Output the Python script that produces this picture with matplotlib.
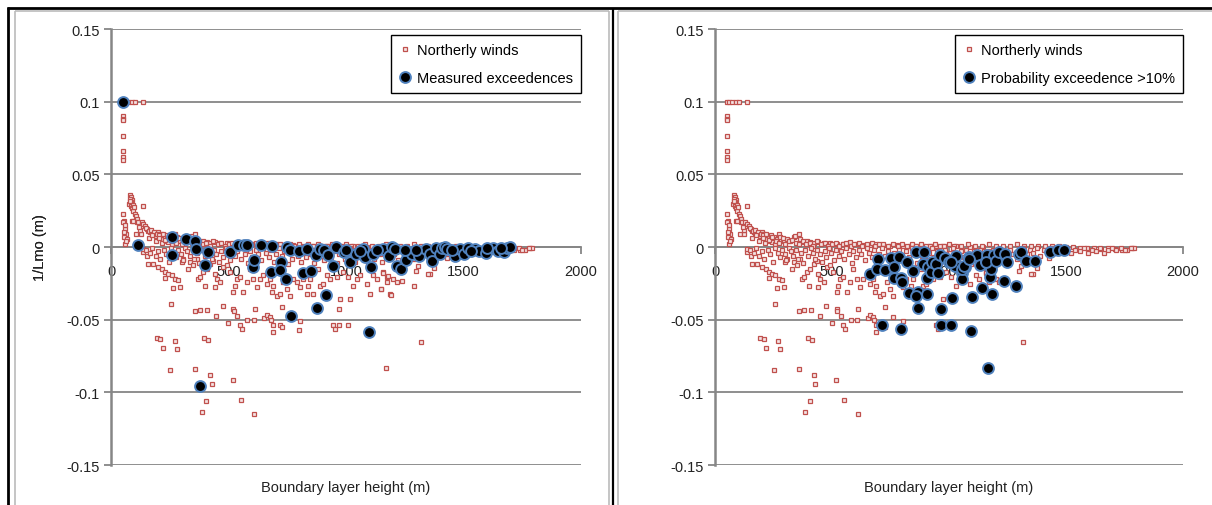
import matplotlib
matplotlib.use("Agg")
import matplotlib.pyplot as plt
from matplotlib.lines import Line2D

# ---------------- data ----------------
north_winds = [
    (51,0.100),(60,0.100),(71,0.100),(88,0.100),(104,0.100),(138,0.100),
    (51,0.0898),(52,0.0882),(51,0.0872),(51,0.0766),(52,0.0663),(51,0.0616),(51,0.0602),
    (81,0.0358),(84,0.0342),(88,0.0326),(78,0.0296),(84,0.0285),(89,0.0267),(95,0.0250),
    (102,0.0228),(106,0.0212),(109,0.0193),(112,0.0175),(135,0.0285),
    (82,0.0330),(86,0.0310),(80,0.0315),(92,0.0290),(97,0.0275),
    (52,0.0228),(55,0.0182),(52,0.0175),(60,0.0124),(64,0.0090),(55,0.0067),(67,0.0056),
    (60,0.0021),(56,0.0100),(58,0.0150),(62,0.0040),
    (88,0.0182),(95,0.0182),(106,0.0090),(126,0.0090),(116,0.0170),(130,0.0170),(138,0.0159),
    (145,0.0147),(152,0.0124),(159,0.0113),(166,0.0102),(173,0.0097),(180,0.0090),(191,0.0079),
    (201,0.0102),(211,0.0090),(216,0.0067),(223,0.0056),(230,0.0079),(237,0.0044),(244,0.0033),
    (251,0.0067),(258,0.0021),(265,0.0056),(272,0.0090),(279,0.0067),(294,0.0044),(308,0.0056),
    (322,0.0044),(336,0.0067),(343,0.0079),(357,0.0090),(364,0.0056),(379,0.0033),(393,0.0044),
    (407,0.0033),(421,0.0028),(442,0.0033),(464,0.0028),(492,0.0028),(520,0.0021),(549,0.0021),
    (577,0.0033),(605,0.0021),(634,0.0017),(662,0.0015),(690,0.0019),(719,0.0015),(747,0.0010),
    (776,0.0015),(804,0.0010),(832,0.0010),(861,0.0010),(889,0.0010),(918,0.0008),(946,0.0005),
    (974,0.0005),(1031,0.0005),(1088,0.0003),(1144,0.0003),(1201,0.0003),
    (122,0.012),(118,0.014),(148,0.013),(162,0.011),(170,0.012),(185,0.010),(195,0.009),
    (205,0.008),(220,0.009),(240,0.008),
    (160,0.006),(175,0.008),(190,0.004),(205,0.006),(215,0.003),(230,0.005),(245,0.007),
    (260,0.004),(275,0.003),(290,0.006),(300,0.002),(315,0.004),(330,0.005),(345,0.003),
    (360,0.002),(375,0.004),(390,0.002),(405,0.003),(420,0.001),(435,0.004),(455,0.002),
    (470,0.003),(485,0.001),(500,0.002),(515,0.003),(530,0.001),(545,0.002),(560,0.003),
    (580,0.001),(595,0.002),(615,0.003),(630,0.001),(650,0.002),(670,0.003),(685,0.001),
    (700,0.002),(720,0.002),(740,0.001),(760,0.002),(780,0.001),(800,0.002),(820,0.001),
    (840,0.002),(860,0.001),(880,0.002),(900,0.001),(920,0.001),(940,0.002),(960,0.001),
    (980,0.001),(1000,0.002),(1020,0.001),(1050,0.001),(1080,0.002),(1110,0.001),(1140,0.001),
    (1170,0.002),(1200,0.001),(1230,0.001),(1260,0.001),(1290,0.002),(1320,0.001),(1350,0.0005),
    (1380,0.001),(1410,0.0005),(1440,0.001),(1470,0.0005),(1500,0.0),(1530,0.0),(1560,-0.0005),
    (1590,-0.001),(1620,-0.0008),(1650,-0.0012),(1680,-0.001),(1710,-0.0015),(1740,-0.0018),
    (1760,-0.0022),
    (138,-0.0036),(152,-0.0063),(135,-0.0013),(159,-0.0116),(180,-0.0116),(201,-0.0139),
    (216,-0.0150),(230,-0.0173),(244,-0.0185),(258,-0.0196),(230,-0.0214),(272,-0.0219),
    (286,-0.0230),(294,-0.0276),(265,-0.0283),(300,-0.0105),(308,-0.0082),(329,-0.0150),
    (336,-0.0105),(350,-0.0127),(364,-0.0082),(372,-0.0219),(379,-0.0208),(393,-0.0173),
    (400,-0.0265),(407,-0.0150),(421,-0.0116),(435,-0.0093),(442,-0.0185),(450,-0.0219),
    (442,-0.0276),(464,-0.0242),(478,-0.0139),(492,-0.0127),(506,-0.0173),(520,-0.0311),
    (527,-0.0269),(535,-0.0219),(549,-0.0208),(563,-0.0311),(577,-0.0242),(591,-0.0150),
    (605,-0.0219),(620,-0.0276),(634,-0.0219),(648,-0.0196),(662,-0.0253),(676,-0.0219),
    (683,-0.0311),(690,-0.0265),(705,-0.0334),(719,-0.0322),(726,-0.0414),(733,-0.0242),
    (747,-0.0288),(761,-0.0334),(776,-0.0219),(790,-0.0242),(804,-0.0276),(818,-0.0219),
    (832,-0.0322),(839,-0.0265),(846,-0.0219),(861,-0.0322),(882,-0.0150),(889,-0.0265),
    (900,-0.0253),(918,-0.0196),(932,-0.0219),(946,-0.0150),(960,-0.0208),(974,-0.0356),
    (988,-0.0173),(1010,-0.0208),(1017,-0.0356),(1031,-0.0265),(1045,-0.0219),(1059,-0.0196),
    (1088,-0.0253),(1102,-0.0322),(1116,-0.0196),(1130,-0.0219),(1151,-0.0288),(1158,-0.0173),
    (1173,-0.0242),(1187,-0.0322),(1201,-0.0219),(1215,-0.0242),
    (255,-0.0391),(357,-0.0443),(379,-0.0432),(410,-0.0432),(447,-0.0478),(475,-0.0409),
    (499,-0.0521),(520,-0.0425),(523,-0.0443),(538,-0.0475),(549,-0.0540),(556,-0.0563),
    (580,-0.0505),(608,-0.0505),(613,-0.0430),(652,-0.0489),(662,-0.0471),(676,-0.0482),
    (679,-0.0505),(690,-0.0540),(688,-0.0585),(719,-0.0540),(726,-0.0551),(761,-0.0482),
    (801,-0.0569),(804,-0.0512),(875,-0.0430),(943,-0.0535),(953,-0.0567),(971,-0.0535),
    (971,-0.0430),(1010,-0.0535),
    (194,-0.0627),(208,-0.0633),(220,-0.0695),(271,-0.0645),(279,-0.0704),(251,-0.0849),
    (396,-0.0627),(414,-0.0640),(357,-0.0837),(518,-0.0913),(421,-0.0883),(428,-0.0943),
    (1170,-0.0833),
    (404,-0.1062),(386,-0.1135),(552,-0.1050),(610,-0.1151),
    (1428,-0.0078),(1371,-0.0094),(1374,-0.0146),(1357,-0.0188),(1298,-0.0162),(1308,-0.0128),
    (1291,-0.0270),(1240,-0.0233),(1191,-0.0332),(1149,-0.0288),(1173,-0.0208),(1180,-0.0201),
    (1159,-0.0178),(1318,-0.0655),(1350,-0.0188),
    (150,-0.002),(165,-0.004),(175,-0.001),(190,-0.006),(200,-0.003),(210,-0.008),(225,-0.002),
    (235,-0.005),(248,-0.010),(255,-0.001),(268,-0.004),(278,-0.007),(285,-0.002),(298,-0.005),
    (305,-0.009),(315,-0.001),(325,-0.003),(335,-0.006),(348,-0.002),(355,-0.008),(368,-0.004),
    (375,-0.011),(385,-0.002),(398,-0.006),(410,-0.001),(418,-0.004),(428,-0.008),(438,-0.002),
    (448,-0.005),(458,-0.010),(468,-0.003),(475,-0.007),(488,-0.001),(497,-0.004),(508,-0.009),
    (515,-0.002),(528,-0.006),(538,-0.003),(552,-0.008),(560,-0.001),(572,-0.005),(585,-0.011),
    (590,-0.003),(602,-0.007),(615,-0.002),(625,-0.005),(640,-0.009),(648,-0.001),(660,-0.004),
    (672,-0.007),(680,-0.002),(695,-0.010),(702,-0.005),(715,-0.001),(728,-0.006),(738,-0.003),
    (752,-0.012),(765,-0.004),(772,-0.008),(785,-0.002),(795,-0.006),(808,-0.010),(818,-0.003),
    (828,-0.007),(842,-0.001),(850,-0.005),(865,-0.011),(872,-0.003),(885,-0.006),(895,-0.002),
    (908,-0.009),(915,-0.004),(928,-0.001),(938,-0.007),(950,-0.003),(962,-0.011),(970,-0.005),
    (985,-0.002),(995,-0.008),(1005,-0.004),(1018,-0.001),(1028,-0.006),(1040,-0.010),
    (1050,-0.003),(1062,-0.007),(1072,-0.002),(1085,-0.005),(1095,-0.012),(1108,-0.003),
    (1120,-0.008),(1132,-0.002),(1145,-0.005),(1155,-0.010),(1168,-0.003),(1178,-0.007),
    (1190,-0.002),(1205,-0.005),(1220,-0.009),(1235,-0.003),(1248,-0.006),(1262,-0.002),
    (1275,-0.005),(1290,-0.008),(1305,-0.003),(1318,-0.001),(1332,-0.005),(1345,-0.002),
    (1360,-0.004),(1375,-0.001),(1390,-0.006),(1405,-0.002),(1420,-0.003),(1438,-0.001),
    (1452,-0.004),(1470,-0.002),(1488,-0.003),(1505,-0.001),(1522,-0.004),(1540,-0.002),
    (1558,-0.003),(1575,-0.001),(1592,-0.004),(1610,-0.002),(1628,-0.003),(1645,-0.001),
    (1662,-0.004),(1680,-0.002),(1698,-0.001),(1715,-0.002),(1735,-0.001),(1751,-0.0020),
    (1783,-0.0009),(1790,-0.0007),(1779,-0.0010),
]

measured_exceedences = [
    (51,0.100),(113,0.0012),(258,0.0066),(259,-0.0055),(318,0.0053),(357,0.0043),(362,-0.0013),
    (412,-0.0036),(399,-0.0122),(508,-0.0034),(540,0.0012),(566,0.0012),(578,0.0012),
    (603,-0.0140),(610,-0.0090),(637,0.0012),(686,0.0010),(682,-0.0171),(722,-0.0105),
    (720,-0.0155),(744,-0.0221),(747,0.0000),(761,-0.0018),(801,-0.0025),(815,-0.0176),
    (832,-0.0013),(853,-0.0168),(871,-0.0055),(875,-0.0421),(889,-0.0013),(905,-0.0024),
    (917,-0.0327),(923,-0.0056),(944,-0.0128),(958,0.0000),(993,-0.0032),(1017,-0.0105),
    (1042,-0.0048),(1074,-0.0016),(1082,-0.0068),(1098,-0.0582),(1105,-0.0141),(1116,-0.0047),
    (1159,-0.0013),(1184,-0.0059),(1194,0.0000),(1210,-0.0015),(1215,-0.0130),(1232,-0.0150),
    (1256,-0.0088),(1276,-0.0034),(1282,-0.0048),(1310,-0.0065),(1340,-0.0012),(1356,-0.0045),
    (1367,-0.0097),(1381,-0.0010),(1398,-0.0048),(1407,-0.0009),(1420,-0.0003),(1431,-0.0012),
    (1463,-0.0059),(1487,-0.0014),(1504,-0.0048),(1521,-0.0005),(1547,-0.0012),(1565,-0.0025),
    (1594,-0.0038),(1625,-0.0007),(1647,-0.0025),(1672,-0.0034),(1684,-0.0005),(1700,0.0003),
    (764,-0.0478),(379,-0.0957),
    (1000,-0.002),(1060,-0.003),(1130,-0.002),(1250,-0.002),(1300,-0.002),(1450,-0.002),
    (1530,-0.003),(1600,-0.001),(1660,-0.001),
]

prob_exceedence = [
    (662,-0.0189),(695,-0.0082),(692,-0.0150),(726,-0.0157),(752,-0.0075),(787,-0.0070),
    (766,-0.0139),(766,-0.0214),(794,-0.0214),(798,-0.0242),(822,-0.0100),(827,-0.0317),
    (847,-0.0162),(861,-0.0031),(869,-0.0311),(861,-0.0338),(869,-0.0418),(893,-0.0031),
    (889,-0.0116),(912,-0.0139),(907,-0.0322),(907,-0.0214),(921,-0.0173),(929,-0.0100),
    (946,-0.0116),(954,-0.0178),(960,-0.0054),(964,-0.0430),(964,-0.0540),(983,-0.0077),
    (1000,-0.0100),(1007,-0.0540),(1014,-0.0352),(1025,-0.0132),(1032,-0.0059),(1056,-0.0180),
    (1056,-0.0219),(1068,-0.0139),(1087,-0.0070),(1092,-0.0581),(1099,-0.0345),(1120,-0.0054),
    (1134,-0.0123),(1141,-0.0283),(1156,-0.0093),(1163,-0.0054),(1167,-0.0833),(1177,-0.0203),
    (1184,-0.0322),(1181,-0.0150),(1191,-0.0054),(713,-0.0540),(794,-0.0567),
    (1007,-0.0105),(1057,-0.0151),(1064,-0.0128),(1085,-0.0082),(1159,-0.0100),(1199,-0.0094),
    (1213,-0.0036),(1234,-0.0231),(1238,-0.0048),(1248,-0.0105),(1286,-0.0270),(1298,-0.0048),
    (1309,-0.0032),(1329,-0.0094),(1366,-0.0094),(1432,-0.0032),(1465,-0.0020),(1493,-0.0018),
]

x_ticks = [0, 500, 1000, 1500, 2000]
y_ticks = [-0.15, -0.1, -0.05, 0, 0.05, 0.1, 0.15]
y_tick_labels = ["-0.15", "-0.1", "-0.05", "0", "0.05", "0.1", "0.15"]
x_label = "Boundary layer height (m)"
y_label = "1/Lmo (m)"
legend_left = ["Northerly winds", "Measured exceedences"]
legend_right = ["Northerly winds", "Probability exceedence >10%"]

# ---------------- figure ----------------
W, H = 1212, 506
plt.rcParams['font.family'] = ['Liberation Sans', 'DejaVu Sans']
fig = plt.figure(figsize=(W / 100, H / 100), dpi=100)

GRID = '#868686'
RED = '#C0504D'
BLUE = '#4F81BD'


def fx(px):
    return px / W


def fy(py):
    return 1 - py / H


def frame_line(x0, y0, x1, y1, color, lw):
    fig.add_artist(Line2D([fx(x0), fx(x1)], [fy(y0), fy(y1)], transform=fig.transFigure,
                          color=color, lw=lw, solid_capstyle='butt'))


# panel borders
frame_line(15, 11.5, 609, 11.5, '#BBBBBB', 1.2)
frame_line(15, 11.5, 15, 506, '#BBBBBB', 1.2)
frame_line(609, 11.5, 609, 506, '#BBBBBB', 1.2)
frame_line(617.5, 11.5, 1212, 11.5, '#BBBBBB', 1.2)
frame_line(617.5, 11.5, 617.5, 506, '#BBBBBB', 1.2)
frame_line(7, 8.5, 1212, 8.5, 'black', 2.0)
frame_line(8, 7.5, 8, 506, 'black', 2.0)
frame_line(612.5, 8.5, 612.5, 506, 'black', 1.6)


def make_panel(left_px, width_px, blue_pts, labels):
    top_px, bottom_px = 30, 466
    ax = fig.add_axes([fx(left_px), fy(bottom_px), width_px / W, (bottom_px - top_px) / H])
    ax.set_xlim(0, 2000)
    ax.set_ylim(-0.15, 0.15)
    ax.set_yticks(y_ticks)
    ax.set_yticklabels(y_tick_labels)
    ax.set_xticks(x_ticks)
    ax.set_xticklabels([str(t) for t in x_ticks])
    ax.grid(axis='y', color=GRID, lw=1.3)
    ax.set_axisbelow(True)
    for s in ['top', 'right']:
        ax.spines[s].set_visible(False)
    ax.spines['bottom'].set_position(('data', 0))
    ax.spines['bottom'].set_color(GRID)
    ax.spines['bottom'].set_linewidth(1.3)
    ax.spines['left'].set_color(GRID)
    ax.spines['left'].set_linewidth(1.8)
    ax.tick_params(axis='both', colors=GRID, labelcolor='#222222', labelsize=10.5,
                   width=1.3, length=5, direction='out')
    ax.tick_params(axis='x', pad=7)
    ax.tick_params(axis='y', pad=3)

    nx = [p[0] for p in north_winds]
    ny = [p[1] for p in north_winds]
    bx = [p[0] for p in blue_pts]
    by = [p[1] for p in blue_pts]
    h1, = ax.plot(nx, ny, ls='none', marker='s', ms=3.5, mfc='#F4E4E4', mec=RED, mew=0.9,
                  label=labels[0], zorder=3)
    h2, = ax.plot(bx, by, ls='none', marker='o', ms=7.8, mfc='black', mec=BLUE, mew=1.4,
                  label=labels[1], zorder=4)
    leg = ax.legend(handles=[h1, h2], loc='upper right', bbox_to_anchor=(1.0, 1 - 6 / 436),
                    borderaxespad=0, frameon=True, fancybox=False, framealpha=1,
                    edgecolor='black', fontsize=10.5, handlelength=0.8, handletextpad=0.45,
                    labelspacing=0.95, borderpad=0.55)
    leg.get_frame().set_linewidth(1.0)
    ax.set_xlabel(x_label, fontsize=10.5, color='#222222')
    ax.xaxis.set_label_coords(0.5, -0.035)
    ax.set_ylabel(y_label, fontsize=10.5, color='#222222')
    ax.yaxis.set_label_coords(-(left_px - 47) / width_px, 0.5)
    return ax


make_panel(111, 470, measured_exceedences, legend_left)
make_panel(715, 468, prob_exceedence, legend_right)

fig.savefig('out.png', dpi=100)
